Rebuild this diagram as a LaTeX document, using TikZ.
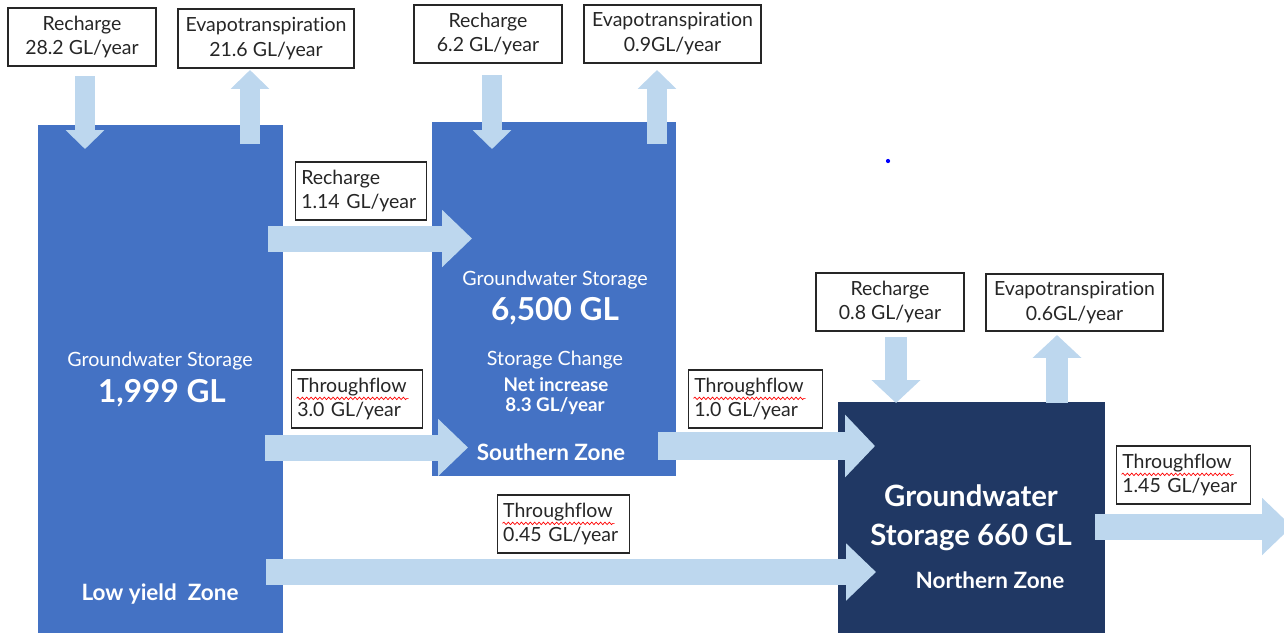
\documentclass[tikz,border=0pt]{standalone}
\usepackage{fontspec}
\setmainfont{Lato}[Ligatures=NoCommon]
\usetikzlibrary{%
        arrows.meta,
        decorations.pathmorphing,
        positioning
    }
\definecolor{zoneblue}{RGB}{68, 114, 196}
\definecolor{zonenavy}{RGB}{32, 56, 100}
\definecolor{flowblue}{RGB}{189, 215, 238}
\definecolor{boxtext}{RGB}{38, 38, 38}
\tikzset{%
    infobox/.style={draw=boxtext, line width=0.8pt, fill=white, text=boxtext,
        font=\fontsize{11.1}{14.2}\selectfont, align=center, inner sep=0pt,
        minimum height=58*0.02cm},
    leftbox/.style={infobox, align=left, inner xsep=3.4pt, text width=#1},
    zone/.style={inner sep=0pt, fill=#1},
    zonetext/.style={text=white, font=\fontsize{11.2}{13}\selectfont},
    bignum/.style={text=white, font=\bfseries\fontsize{18}{22}\selectfont},
    zonename/.style={text=white, font=\bfseries\fontsize{12.8}{15}\selectfont},
    smallbold/.style={text=white, font=\bfseries\fontsize{10.7}{12}\selectfont},
    flow/.style n args={3}{draw=flowblue, line width=#1,
        -{Triangle[length=#2, width=#3]}},
    vflow/.style={flow={11pt}{10.8pt}{21.5pt}},
    bigvflow/.style={flow={12pt}{13pt}{27pt}},
    hflow/.style={flow={14.8pt}{17pt}{31.5pt}},
    spellmark/.style={red, line width=0.4pt, decorate,
        decoration={snake, amplitude=0.7pt, segment length=2.5pt}}
}

\begin{document}
\begin{tikzpicture}[x=0.02cm, y=-0.02cm]

    \useasboundingbox (0, 0) rectangle (1284, 633);

    % Zones
    \node[zone=zoneblue, minimum width=245*0.02cm, minimum height=508*0.02cm]
        (low) at (160.5, 379) {};
    \node[zone=zoneblue, minimum width=244*0.02cm, minimum height=354*0.02cm]
        (south) at (554, 299) {};
    \node[zone=zonenavy, minimum width=267*0.02cm, minimum height=231*0.02cm]
        (north) at (971.5, 517.5) {};

    % Zone texts
    \node[zonetext] (lowtitle) at (160, 361) {Groundwater Storage};
    \node[bignum] (lowstore) at (162, 393) {1,999 GL};
    \node[zonename] (lowname) at (160, 594) {Low yield~ Zone};

    \node[zonetext] (southtitle) at (555, 280) {Groundwater Storage};
    \node[bignum] (southstore) at (555, 311) {6,500 GL};
    \node[zonetext] (southchange) at (555, 360) {Storage Change};
    \node[smallbold] (southnet) at (556, 385) {Net increase};
    \node[smallbold] (southrate) at (555, 406) {8.3 GL/year};
    \node[zonename] (southname) at (551, 452) {Southern Zone};

    \node[text=white, align=center, font=\bfseries\fontsize{16.7}{22}\selectfont]
        (northstore) at (971, 518) {Groundwater\\Storage 660 GL};
    \node[zonename] (northname) at (990, 580) {Northern Zone};

    \fill[blue] (888, 161) circle [radius=1.2pt];

    % Flow ends
    \coordinate (r1top) at (85, 76);
    \coordinate (r1tip) at (85, 149);
    \coordinate (e1low) at (250, 144);
    \coordinate (e1tip) at (250, 70);
    \coordinate (r2top) at (492, 75);
    \coordinate (r2tip) at (492, 149);
    \coordinate (e2low) at (657, 144);
    \coordinate (e2tip) at (657, 70);
    \coordinate (r3top) at (896, 337);
    \coordinate (r3tip) at (896, 403);
    \coordinate (e3low) at (1057, 403);
    \coordinate (e3tip) at (1057, 335);
    \coordinate (rstail) at (268, 238.5);
    \coordinate (rstip) at (472, 238.5);
    \coordinate (t1tail) at (265, 447.5);
    \coordinate (t1tip) at (468, 447.5);
    \coordinate (t2tail) at (658, 446);
    \coordinate (t2tip) at (875, 446);
    \coordinate (t3tail) at (266, 572);
    \coordinate (t3tip) at (876, 572);
    \coordinate (t4tail) at (1095, 526.5);
    \coordinate (t4tip) at (1292, 526.5);

    % Flows
    \draw[vflow] (r1top) -- (r1tip);
    \draw[vflow] (e1low) -- (e1tip);
    \draw[vflow] (r2top) -- (r2tip);
    \draw[vflow] (e2low) -- (e2tip);
    \draw[bigvflow] (r3top) -- (r3tip);
    \draw[bigvflow] (e3low) -- (e3tip);
    \draw[hflow] (rstail) -- (rstip);
    \draw[hflow] (t1tail) -- (t1tip);
    \draw[flow={15.9pt}{17pt}{34.6pt}] (t2tail) -- (t2tip);
    \draw[hflow] (t3tail) -- (t3tip);
    \draw[hflow] (t4tail) -- (t4tip);

    % Boxes
    \node[infobox, minimum width=148*0.02cm] (rec1) at (82, 37)
        {Recharge\\28.2 GL/year};
    \node[infobox, minimum width=176*0.02cm, minimum height=59*0.02cm]
        (eva1) at (266, 38.5) {Evapotranspiration\\21.6 GL/year};
    \node[infobox, minimum width=148*0.02cm] (rec2) at (488, 34)
        {Recharge\\6.2 GL/year};
    \node[infobox, minimum width=177*0.02cm] (eva2) at (672.5, 34)
        {Evapotranspiration\\0.9GL/year};
    \node[leftbox=68pt] (recs) at (361, 191) {Recharge\\1.14 GL/year};
    \node[leftbox=68pt] (thr1) at (357, 399) {Throughflow\\3.0 GL/year};
    \node[leftbox=69.7pt] (thr2) at (755.5, 399) {Throughflow\\1.0 GL/year};
    \node[infobox, minimum width=148*0.02cm] (rec3) at (890, 302)
        {Recharge\\0.8 GL/year};
    \node[infobox, minimum width=177*0.02cm, minimum height=57*0.02cm]
        (eva3) at (1074.5, 302.5) {Evapotranspiration\\0.6GL/year};
    \node[leftbox=69.7pt] (thr4) at (1183.5, 475) {Throughflow\\1.45 GL/year};
    \node[leftbox=68.6pt] (thr3) at (563.5, 524) {Throughflow\\0.45 GL/year};

    % Spelling marks
    \foreach \tbox in {thr1, thr2, thr3, thr4}{%
        \draw[spellmark] ([shift={(3.4pt, -3.6pt)}]\tbox.base west) -- ++(112, 0);
    };

\end{tikzpicture}
\end{document}
